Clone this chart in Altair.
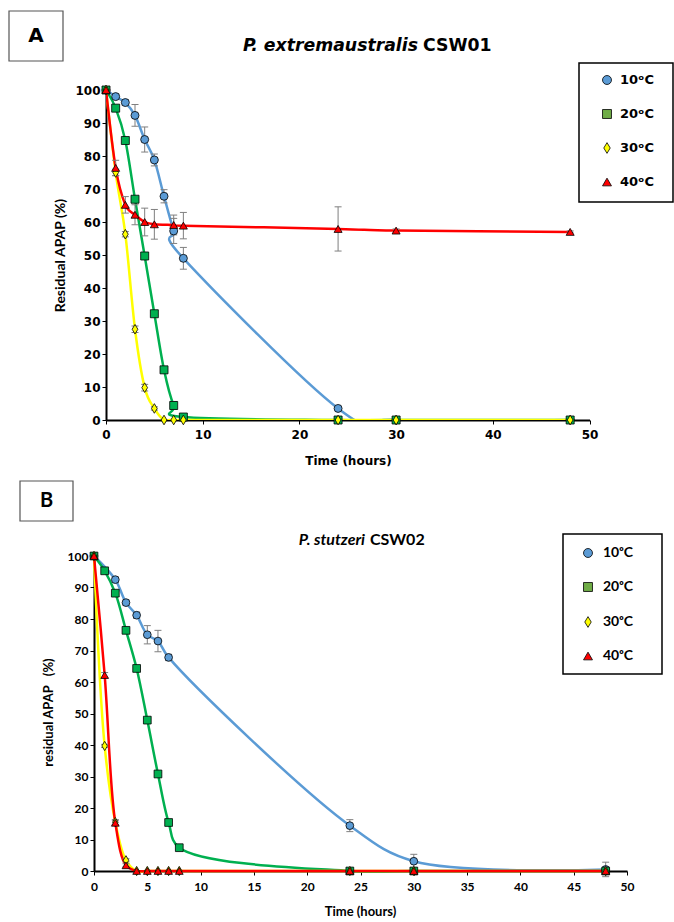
import altair as alt
import pandas as pd

SERIES = ["10ᵒC", "20ᵒC", "30ᵒC", "40ᵒC"]
LINE_COLORS = ["#5B9BD5", "#00B050", "#FFFF00", "#FF0000"]
FILL_COLORS = ["#5B9BD5", "#00B050", "#FFFF00", "#FF0000"]
LEGEND_FILLS = ["#5B9BD5", "#70AD47", "#FFFF00", "#FF0000"]
DIAMOND = "M0,-1.2L0.72,0L0,1.2L-0.72,0Z"
SHAPES = ["circle", "square", DIAMOND, "triangle-up"]

X_TICKS_A = [0, 10, 20, 30, 40, 50]
X_TICKS_B = [0, 5, 10, 15, 20, 25, 30, 35, 40, 45, 50]
Y_TICKS = [0, 10, 20, 30, 40, 50, 60, 70, 80, 90, 100]

# ---------------- Panel A : P. extremaustralis CSW01 ----------------
A_t_10 = [0, 1, 2, 3, 4, 5, 6, 7, 8, 24, 30, 48]
A_v_10 = [100, 98, 96.2, 92.3, 85, 78.8, 67.8, 57.3, 49, 3.5, 0, 0]
A_e_10 = [0, 0.8, 0.8, 3.3, 3.8, 1.8, 2, 3.8, 3.3, 0.5, 0, 0]
A_t_20 = [0, 1, 2, 3, 4, 5, 6, 7, 8, 24, 30, 48]
A_v_20 = [100, 94.5, 84.7, 66.9, 49.7, 32.2, 15.2, 4.4, 0.9, 0, 0, 0]
A_e_20 = [0, 0.5, 0.5, 0.8, 0.5, 0.5, 0.8, 1.2, 0.5, 0, 0, 0]
A_t_30 = [0, 1, 2, 3, 4, 5, 6, 7, 8, 24, 30, 48]
A_v_30 = [100, 75, 56.3, 27.5, 9.8, 3.5, 0, 0, 0, 0, 0, 0]
A_e_30 = [0, 1, 0.8, 1, 1, 0.5, 0, 0, 0, 0, 0, 0]
A_t_40 = [0, 1, 2, 3, 4, 5, 7, 8, 24, 30, 48]
A_v_40 = [100, 76.4, 65.2, 62.2, 60, 59.3, 59.1, 58.9, 57.9, 57.4, 57]
A_e_40 = [0, 2.3, 2.5, 3, 4.2, 4.5, 3, 4, 6.7, 0.5, 0.3]

# ---------------- Panel B : P. stutzeri CSW02 ----------------
B_t_10 = [0, 2, 3, 4, 5, 6, 7, 24, 30, 48]
B_v_10 = [100, 92.5, 85.2, 81.2, 75, 73, 67.8, 14.4, 3.1, 0.5]
B_e_10 = [0, 0.8, 0.8, 1, 2.9, 3.4, 1, 1.9, 2.2, 2.3]
B_t_20 = [0, 1, 2, 3, 4, 5, 6, 7, 8, 24, 30, 48]
B_v_20 = [100, 95.3, 88.2, 76.4, 64.3, 47.9, 30.8, 15.4, 7.4, 0, 0, 0]
B_e_20 = [0, 0.5, 0.5, 0.5, 0.5, 0.5, 0.5, 0.5, 0.5, 0, 0, 0]
B_t_30 = [0, 1, 2, 3, 4, 5, 6, 7, 8, 24, 30, 48]
B_v_30 = [100, 39.7, 15.5, 3.4, 0, 0, 0, 0, 0, 0, 0, 0]
B_e_30 = [0, 0.5, 0.8, 0.5, 0, 0, 0, 0, 0, 0, 0, 0]
B_t_40 = [0, 1, 2, 3, 4, 5, 6, 7, 8, 24, 30, 48]
B_v_40 = [100, 62.2, 15.3, 1.8, 0, 0, 0, 0, 0, 0, 0, 0]
B_e_40 = [0, 0.8, 0.8, 0.5, 0, 0, 0, 0, 0, 0, 0, 0]


def panel_df(times, values, errors):
    rows = []
    for s, ts, vs, es in zip(SERIES, times, values, errors):
        for t, v, e in zip(ts, vs, es):
            rows.append({"series": s, "t": t, "v": v, "err": e,
                         "lo": v - e, "hi": v + e})
    return pd.DataFrame(rows)


ONE = pd.DataFrame({"k": [0]})


def rect(x1, y1, x2, y2, **kw):
    return alt.Chart(ONE).mark_rect(**kw).encode(
        x=alt.value(x1), x2=alt.value(x2), y=alt.value(y1), y2=alt.value(y2))


def label(x, y, txt, **kw):
    return alt.Chart(ONE).mark_text(color="black", baseline="middle", **kw).encode(
        x=alt.value(x), y=alt.value(y), text=alt.value(txt))


def panel(df, c):
    font = c["font"]
    ox, oy = c["origin"]
    shift = c["shift"]          # where t=0 sits relative to the panel's left edge
    xs = alt.Scale(domain=[0, 50], nice=False, zero=False,
                   range=[-shift, c["w"]])
    ys = alt.Scale(domain=[0, 100], nice=False, zero=False)
    x_axis = alt.Axis(values=c["xticks"], grid=False, domainColor="black", domainWidth=2,
                      tickColor="black", tickSize=4, tickWidth=1, labelFlush=False,
                      labelOverlap=False, labelFont=font, labelFontSize=c["tick_fs"],
                      labelFontWeight="bold", labelColor="black", labelPadding=c["xlabpad"],
                      title="Time (hours)", titleFont=font, titleFontSize=c["xtitle_fs"],
                      titleFontWeight="bold", titleColor="black",
                      titleX=c["xtitle_x"] - ox, titleY=c["xtitle_y"],
                      titleAlign="center", titleBaseline="middle")
    y_axis = alt.Axis(values=Y_TICKS, grid=False, domainColor="black", domainWidth=2,
                      tickColor="black", tickSize=4, tickWidth=1, labelFlush=False,
                      labelOverlap=False, labelFont=font, labelFontSize=c["tick_fs"],
                      labelFontWeight="bold", labelColor="black", labelPadding=2,
                      offset=shift,
                      title=c["ytitle"], titleFont=c["ytitle_font"],
                      titleFontSize=c["ytitle_fs"], titleFontWeight="bold",
                      titleColor="black", titleAngle=270,
                      titleX=c["ytitle_x"] - (ox - shift), titleY=c["ytitle_y"] - oy,
                      titleAlign="center", titleBaseline="middle")

    def X():
        return alt.X("t:Q", scale=xs, axis=x_axis)

    def Y(field="v"):
        return alt.Y(field=field, type="quantitative", scale=ys, axis=y_axis)

    color = alt.Color("series:N", scale=alt.Scale(domain=SERIES, range=LINE_COLORS),
                      legend=None)
    lines = [
        alt.Chart(df[df.series == s]).mark_line(
            interpolate=c["interp"][i], strokeWidth=2.5, clip=c["clip"]).encode(
            x=X(), y=Y(), color=color)
        for i, s in enumerate(SERIES)
    ]
    edf = df[df.err > 0]
    bars = alt.Chart(edf).mark_rule(color="#7F7F7F", strokeWidth=1).encode(
        x=X(), y=Y("lo"), y2=alt.Y2("hi"))
    cap_hi = alt.Chart(edf).mark_tick(orient="horizontal", color="#7F7F7F", size=7,
                                      thickness=1, opacity=1).encode(x=X(), y=Y("hi"))
    cap_lo = alt.Chart(edf).mark_tick(orient="horizontal", color="#7F7F7F", size=7,
                                      thickness=1, opacity=1).encode(x=X(), y=Y("lo"))
    pts = alt.Chart(df).mark_point(filled=True, size=c["msize"], stroke="black",
                                   strokeWidth=0.8, opacity=1).encode(
        x=X(), y=Y(),
        fill=alt.Fill("series:N", scale=alt.Scale(domain=SERIES, range=FILL_COLORS),
                      legend=None),
        shape=alt.Shape("series:N", scale=alt.Scale(domain=SERIES, range=SHAPES),
                        legend=None))

    ex1, ey1, ex2, ey2 = c["extent"]
    extent = rect(ex1 - ox, ey1 - oy, ex2 - ox, ey2 - oy, opacity=0)
    bx1, by1, bx2, by2 = c["box"]
    box = rect(bx1 - ox, by1 - oy, bx2 - ox, by2 - oy, fill="white", stroke="#555555",
               strokeWidth=1.2)
    box_txt = label((bx1 + bx2) / 2 - ox, (by1 + by2) / 2 - oy, c["letter"], font=font,
                    fontSize=c["letter_fs"], fontWeight="bold", align="center")
    lx1, ly1, lx2, ly2 = c["legbox"]
    legbox = rect(lx1 - ox, ly1 - oy, lx2 - ox, ly2 - oy, fill="white", stroke="black",
                  strokeWidth=1.5)
    tx, ty = c["title_pos"]
    t1 = label(tx - ox, ty - oy, c["title_it"], font=font, fontSize=c["head_fs"],
               fontWeight="bold", fontStyle="italic", align="right")
    t2 = label(tx + c["title_gap"] - ox, ty - oy, c["title_up"], font=font,
               fontSize=c["head_fs"], fontWeight="bold", align="left")

    leg = []
    for i, s in enumerate(SERIES):
        cy = c["leg_rows"][i] - oy
        leg.append(alt.Chart(ONE).mark_point(
            filled=True, size=80, shape=SHAPES[i], fill=LEGEND_FILLS[i], stroke="black",
            strokeWidth=0.8, opacity=1).encode(x=alt.value(c["leg_sym_x"] - ox),
                                                y=alt.value(cy)))
        leg.append(label(c["leg_lab_x"] - ox, cy, s, font=font, fontSize=c["leg_fs"],
                         fontWeight="bold", align="left"))

    return alt.layer(extent, box, box_txt, t1, t2, legbox, *leg, *lines, bars, cap_hi,
                     cap_lo, pts).properties(width=c["w"], height=c["h"])


dfA = panel_df([A_t_10, A_t_20, A_t_30, A_t_40], [A_v_10, A_v_20, A_v_30, A_v_40],
               [A_e_10, A_e_20, A_e_30, A_e_40])
dfB = panel_df([B_t_10, B_t_20, B_t_30, B_t_40], [B_v_10, B_v_20, B_v_30, B_v_40],
               [B_e_10, B_e_20, B_e_30, B_e_40])

# both panels share the same left edge (x=106); panel B's time axis starts 12 px further left
cfgA = dict(font="DejaVu Sans", origin=(106, 90), shift=0, clip=True, w=483.5, h=330,
            extent=(0, 0, 674, 470), interp=["cardinal"] * 4,
            xticks=X_TICKS_A, tick_fs=12, xtitle_fs=12, xlabpad=5,
            xtitle_x=348, xtitle_y=40, ytitle="Residual APAP (%)", ytitle_font="Lato",
            ytitle_fs=14, ytitle_x=60, ytitle_y=255,
            leg_rows=[80, 114, 148, 182], leg_sym_x=607, leg_lab_x=620, leg_fs=13,
            msize=64, box=(9, 11, 63, 61), letter="A",
            letter_fs=20, legbox=(579, 63, 673, 202), title_pos=(418, 46),
            title_it="P. extremaustralis", title_up="CSW01", title_gap=5, head_fs=17.3)
cfgB = dict(font="Lato", origin=(106, 556), shift=12, clip=False, w=521, h=315,
            extent=(0, 470, 674, 922), interp=["catmull-rom"] * 4,
            xticks=X_TICKS_B, tick_fs=12, xtitle_fs=13, xlabpad=6,
            xtitle_x=360, xtitle_y=40, ytitle="residual APAP\u00a0\u00a0\u00a0(%)",
            ytitle_font="Lato", ytitle_fs=13, ytitle_x=48, ytitle_y=712,
            leg_rows=[553, 587, 622, 656], leg_sym_x=588, leg_lab_x=603, leg_fs=14,
            msize=60, box=(20, 481, 73, 521),
            letter="B", letter_fs=20, legbox=(563, 534, 662, 674), title_pos=(365, 540),
            title_it="P. stutzeri", title_up="CSW02", title_gap=5, head_fs=16)

chart = alt.vconcat(panel(dfA, cfgA), panel(dfB, cfgB), spacing=0).properties(
    padding=0, background="white").configure_view(stroke=None)

chart.save("out.html", embed_options={"renderer": "svg", "actions": False})
